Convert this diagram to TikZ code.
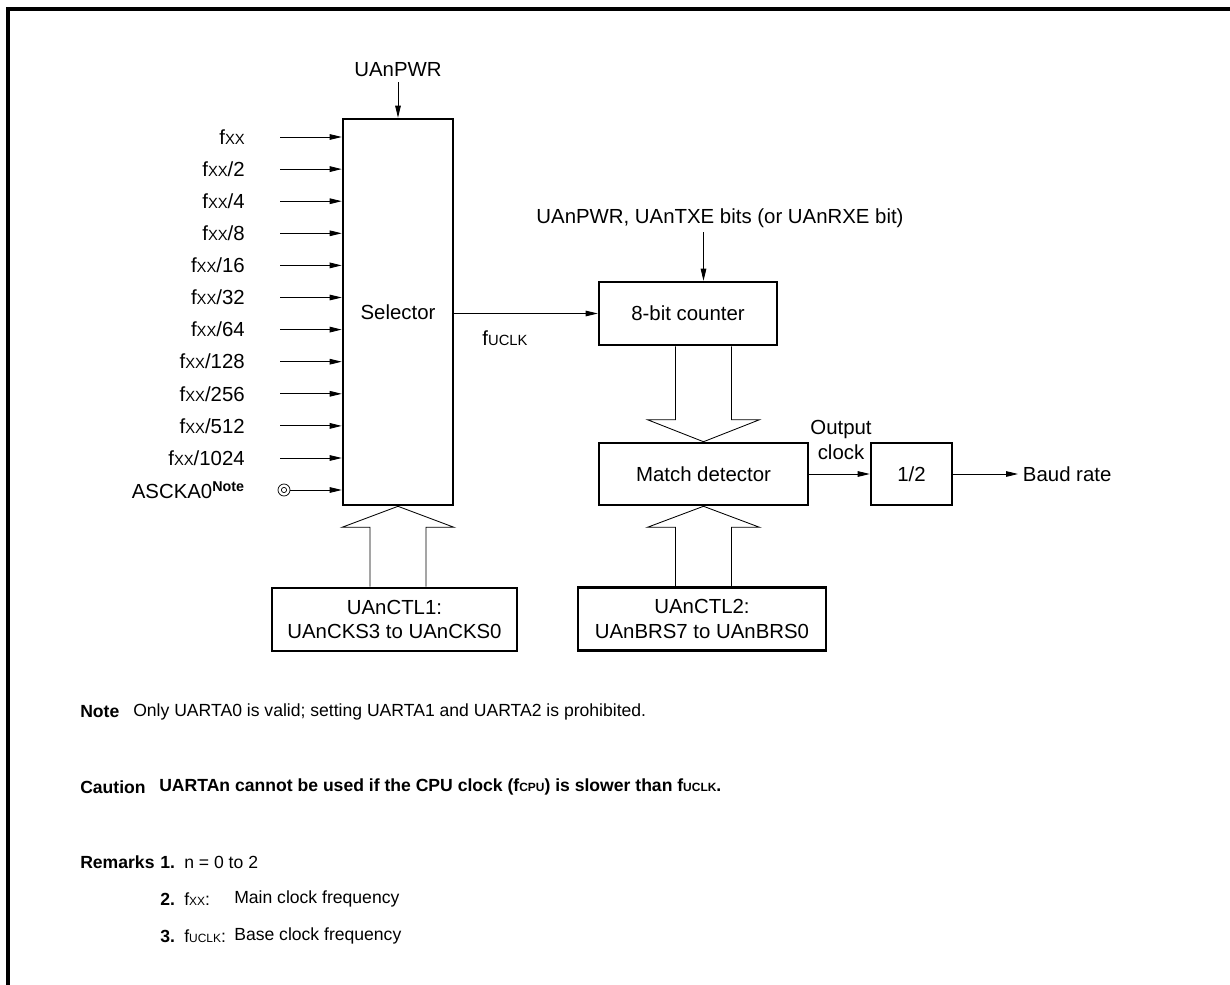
\documentclass[tikz,border=0pt]{standalone}
\usepackage{fontspec}
\setmainfont{Liberation Sans}
\usepackage{tikz}
\usetikzlibrary{arrows.meta,positioning,calc}
\newcommand{\fsub}[2][10.5]{f{\fontsize{#1}{#1}\selectfont #2}}
\newcommand{\hollowarrow}[3]{%
\path (#1) ++(-28,#3) coordinate (hl) ++(56,0) coordinate (hr);
\draw[bus] (hl |- #2) -- (hl) -- ++(-28,0) -- (#1) -- ($(hr)+(28,0)$) -- (hr) -- (hr |- #2);}
\begin{document}
\begin{tikzpicture}[
x=0.025cm,
y=-0.025cm,
font=\fontsize{14.5}{17.5}\selectfont,
box/.style={
draw,
line width=1.8pt,
align=center,
inner sep=0pt
},
arrow/.style={
-{Triangle[length=0.3cm,width=0.14cm]},
line width=0.6pt
},
bus/.style={
line width=0.6pt
},
note/.style={
anchor=west,
inner sep=0pt,
font=\fontsize{12.5}{15}\selectfont
}
]

\useasboundingbox (0,0) rectangle (1230,985);
\draw[line width=2.2pt] (8,985) -- (8,9) -- (1230,9);

\node[box, minimum width=2.75cm, minimum height=9.65cm] (sel) at (398,312) {Selector};

\node[box, minimum width=4.45cm, minimum height=1.575cm] (cnt) at (688,313.5) {8-bit counter};

\node[box, minimum width=5.225cm, minimum height=1.55cm] (match) at (703.5,474) {Match detector};

\node[box, minimum width=2.025cm, minimum height=1.55cm] (half) at (911.5,474) {1/2};

\node[box, minimum width=6.125cm, minimum height=1.575cm] (ctl1) at (394.5,619.5)
{UAnCTL1:\\UAnCKS3 to UAnCKS0};

\node[box, minimum width=6.2cm, minimum height=1.575cm] (ctl2) at (702,619)
{UAnCTL2:\\UAnBRS7 to UAnBRS0};

\node (pwr) at (398,70) {UAnPWR};
\draw[arrow] (pwr.south) -- (sel.north);

\foreach \lab [count=\i from 0] in {{},/2,/4,/8,/16,/32,/64,/128,/256,/512,/1024} {
\node[anchor=east, inner sep=0pt] (in\i) at (245,137+32.1*\i) {\fsub{XX}\lab};
\coordinate (s\i) at (280,137+32.1*\i);
\draw[arrow] (s\i) -- (s\i -| sel.west);
}

\node[anchor=east, inner sep=0pt] (asck) at (245,490) {ASCKA0\textsuperscript{\textbf{Note}}};
\node[draw, circle, inner sep=0pt, minimum size=0.3cm, line width=0.5pt] (pin) at (284,490) {};
\draw[line width=0.5pt] (pin.center) circle (0.065cm);
\draw[arrow] (pin.east) -- (pin.east -| sel.west);

\draw[arrow] (sel.east |- cnt.west) -- (cnt.west);
\node (fu) at (505,338) {\fsub{UCLK}};

\node (en) at (720,218) {UAnPWR, UAnTXE bits (or UAnRXE bit)};
\draw[arrow] (en.south -| match.north) -- (cnt.north -| match.north);

\hollowarrow{sel.south}{ctl1.north}{21}
\hollowarrow{match.north}{cnt.south}{-22}
\hollowarrow{match.south}{ctl2.north}{21}

\draw[arrow] (match.east) -- (half.west);
\node[align=center, inner sep=0pt] (oc) at (841,440) {Output\\clock};

\node[anchor=west] (baud) at (1018,474) {Baud rate};
\draw[arrow] (half.east) -- (baud.west);

\node[note] (notehd) at (80,712) {\bfseries Note};
\node[note] (notetx) at (133,712) {Only UARTA0 is valid; setting UARTA1 and UARTA2 is prohibited.};

\node[note] (cauthd) at (80,787) {\bfseries Caution};
\node[note] (cauttx) at (159,787) {\bfseries UARTAn cannot be used if the CPU clock (\fsub[8.5]{CPU}) is slower than \fsub[8.5]{UCLK}.};

\node[note] (remhd) at (80,862) {\bfseries Remarks};
\node[note] (rem1) at (160,862) {\bfseries 1.};
\node[note] (rem1a) at (184,862) {n = 0 to 2};
\node[note] (rem2) at (160,899) {\bfseries 2.};
\node[note] (rem2a) at (184,899) {\fsub[8.5]{XX}:};
\node[note] (rem2b) at (234,899) {Main clock frequency};
\node[note] (rem3) at (160,936) {\bfseries 3.};
\node[note] (rem3a) at (184,936) {\fsub[8.5]{UCLK}:};
\node[note] (rem3b) at (234,936) {Base clock frequency};

\end{tikzpicture}
\end{document}
